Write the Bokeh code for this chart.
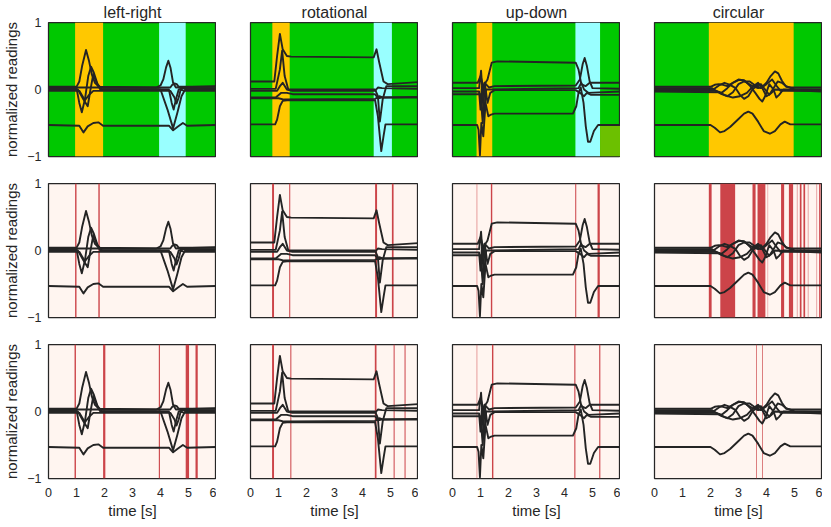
from bokeh.plotting import figure
from bokeh.layouts import column, row
from bokeh.models import Range1d, FixedTicker, ColumnDataSource
from bokeh.embed import file_html
from bokeh.resources import INLINE

# ---------------- data ----------------
titles = ["left-right", "rotational", "up-down", "circular"]
x_ticks = [0, 1, 2, 3, 4, 5, 6]
y_ticks = [-1, 0, 1]
y_tick_labels = {-1: "\u22121", 0: "0", 1: "1"}

# left-right traces
lr1_t = [0, 1.0, 1.1, 1.2, 1.34, 1.45, 1.55, 1.66, 1.8, 3.85, 4.0, 4.1, 4.2, 4.28, 4.36, 4.45, 4.55, 6]
lr1_v = [0.04, 0.04, 0.12, 0.35, 0.59, 0.42, 0.22, 0.1, 0.04, 0.03, 0.06, 0.15, 0.33, 0.43, 0.32, 0.1, 0.03, 0.05]
lr2_t = [0, 1.0, 1.1, 1.19, 1.3, 1.42, 1.52, 1.62, 1.75, 1.9, 4.3, 4.4, 4.47, 4.55, 4.65, 4.8, 6]
lr2_v = [0.02, 0.02, -0.2, -0.34, -0.15, 0.2, 0.34, 0.25, 0.08, 0.01, 0.0, -0.2, -0.3, -0.15, 0.0, 0.02, 0.02]
lr3_t = [0, 1.05, 1.25, 1.4, 1.5, 1.6, 1.7, 1.85, 4.0, 4.25, 4.45, 4.6, 4.75, 4.88, 6]
lr3_v = [0.0, 0.0, -0.15, -0.25, 0.0, 0.23, 0.12, 0.0, 0.0, -0.3, -0.58, -0.35, -0.1, 0.0, 0.0]
lr4_t = [0, 1.1, 1.3, 1.45, 1.6, 4.35, 4.5, 4.57, 4.65, 4.72, 4.85, 6]
lr4_v = [-0.02, -0.02, -0.16, -0.08, -0.02, -0.02, -0.12, -0.21, -0.12, 0.0, -0.02, -0.02]
lr5_t = [0, 4.35, 4.42, 4.5, 4.58, 4.65, 4.75, 6]
lr5_v = [0.03, 0.03, 0.07, 0.09, 0.08, 0.04, 0.04, 0.04]
lr6_t = [0, 1.1, 1.25, 1.4, 1.6, 1.78, 1.95, 4.3, 4.45, 4.6, 4.8, 4.95, 6]
lr6_v = [-0.53, -0.54, -0.64, -0.55, -0.5, -0.49, -0.54, -0.54, -0.61, -0.56, -0.5, -0.54, -0.53]

# rotational traces
rot1_t = [0, 0.85, 0.95, 1.05, 1.15, 1.3, 1.45, 4.4, 4.5, 4.6, 4.75, 4.9, 6]
rot1_v = [0.12, 0.12, 0.5, 0.83, 0.6, 0.5, 0.49, 0.48, 0.6, 0.4, 0.12, 0.08, 0.11]
rot2_t = [0, 0.9, 1.05, 1.13, 1.22, 1.35, 4.45, 4.55, 4.62, 4.72, 4.85, 6]
rot2_v = [0.01, 0.01, 0.3, 0.58, 0.2, 0.0, 0.0, -0.1, -0.48, -0.15, 0.05, 0.05]
rot3_t = [0, 0.95, 1.05, 1.15, 1.3, 1.5, 4.45, 4.55, 4.7, 6]
rot3_v = [-0.02, -0.02, 0.05, 0.1, 0.0, -0.02, -0.02, 0.03, 0.02, 0.01]
rot4_t = [0, 0.9, 1.1, 1.3, 1.5, 4.45, 4.55, 4.7, 6]
rot4_v = [-0.12, -0.12, -0.05, -0.05, -0.07, -0.07, -0.13, -0.12, -0.11]
rot5_t = [0, 1.0, 1.2, 4.45, 4.6, 4.75, 6]
rot5_v = [-0.13, -0.13, -0.15, -0.14, -0.1, -0.12, -0.12]
rot6_t = [0, 0.88, 0.95, 1.05, 1.15, 1.3, 4.45, 4.55, 4.67, 4.75, 4.82, 6]
rot6_v = [-0.52, -0.52, -0.45, -0.25, -0.17, -0.16, -0.16, -0.4, -0.92, -0.7, -0.52, -0.52]

# up-down traces
ud1_t = [0, 0.9, 1.0, 1.1, 1.25, 1.4, 1.6, 4.4, 4.5, 4.6, 4.75, 4.9, 6]
ud1_v = [0.1, 0.1, 0.2, 0.05, 0.15, 0.4, 0.42, 0.4, 0.3, 0.08, 0.05, 0.1, 0.1]
ud2_t = [0, 0.95, 1.02, 1.08, 1.15, 1.3, 1.5, 4.4, 4.55, 4.65, 4.72, 4.8, 4.9, 5.0, 6]
ud2_v = [0.02, 0.02, 0.28, -0.1, 0.1, 0.03, 0.05, 0.06, 0.15, 0.38, 0.47, 0.35, 0.12, 0.02, 0.01]
ud3_t = [0, 0.95, 1.0, 1.05, 1.12, 1.2, 1.35, 4.5, 4.6, 4.7, 4.85, 6]
ud3_v = [-0.03, -0.03, -0.3, 0.05, -0.4, 0.0, 0.0, 0.02, 0.1, 0.0, -0.05, -0.03]
ud4_t = [0, 1.0, 1.08, 1.15, 1.25, 1.35, 1.5, 4.4, 4.55, 4.7, 4.8, 4.95, 6]
ud4_v = [-0.07, -0.07, -0.5, 0.1, -0.2, -0.05, -0.01, -0.01, -0.05, -0.1, -0.05, -0.08, -0.08]
ud5_t = [0, 0.88, 0.93, 0.98, 1.03, 1.1, 1.18, 1.28, 1.35, 1.5, 4.3, 4.42, 4.5, 4.58, 4.68, 4.76, 4.84, 4.92, 5.05, 5.2, 6]
ud5_v = [-0.53, -0.53, -0.6, -0.98, -0.5, -0.7, -0.2, -0.4, -0.38, -0.36, -0.36, -0.25, -0.05, 0.03, -0.2, -0.55, -0.78, -0.78, -0.62, -0.53, -0.53]

# circular traces
cir1_t = [0, 2.0, 2.15, 2.3, 2.45, 2.6, 2.8, 3.0, 3.15, 3.3, 3.5, 3.7, 3.85, 4.0, 4.15, 4.3, 4.42, 4.55, 4.7, 4.9, 6]
cir1_v = [0.04, 0.04, 0.07, 0.08, 0.07, 0.05, 0.1, 0.15, 0.14, 0.1, 0.05, 0.02, 0.04, 0.1, 0.2, 0.27, 0.24, 0.13, 0.04, 0.03, 0.03]
cir2_t = [0, 2.05, 2.2, 2.4, 2.6, 2.8, 3.0, 3.2, 3.4, 3.6, 3.75, 3.85, 3.95, 4.1, 4.25, 4.35, 4.45, 4.6, 6]
cir2_v = [0.02, 0.02, -0.02, -0.05, 0.02, 0.1, 0.14, 0.14, 0.06, -0.05, -0.14, -0.18, -0.1, 0.08, 0.0, -0.12, -0.08, 0.0, 0.0]
cir3_t = [0, 2.1, 2.3, 2.5, 2.7, 2.9, 3.05, 3.2, 3.35, 3.5, 3.65, 3.8, 3.95, 4.1, 4.25, 4.4, 4.55, 4.7, 5.0, 6]
cir3_v = [0.0, 0.0, 0.06, 0.1, 0.07, 0.02, -0.08, -0.14, -0.1, 0.0, 0.06, 0.08, 0.0, -0.08, 0.02, 0.12, 0.1, 0.05, 0.0, -0.01]
cir4_t = [0, 2.2, 2.4, 2.6, 2.8, 3.0, 3.2, 3.4, 3.6, 3.8, 4.0, 4.2, 4.35, 4.5, 6]
cir4_v = [-0.02, -0.02, -0.07, -0.1, -0.04, 0.08, 0.12, 0.12, 0.06, 0.02, 0.08, 0.15, 0.06, -0.02, -0.02]
cir5_t = [0, 2.3, 2.55, 2.8, 3.05, 3.3, 3.5, 3.7, 3.85, 4.0, 4.15, 4.3, 6]
cir5_v = [-0.03, -0.04, -0.09, -0.12, -0.1, -0.05, 0.04, 0.1, 0.02, -0.1, -0.06, 0.0, -0.03]
cir6_t = [0, 2.0, 2.15, 2.34, 2.5, 2.7, 3.0, 3.2, 3.35, 3.5, 3.7, 3.9, 4.12, 4.3, 4.5, 4.65, 4.85, 6]
cir6_v = [-0.53, -0.53, -0.57, -0.64, -0.62, -0.56, -0.44, -0.36, -0.33, -0.36, -0.48, -0.62, -0.66, -0.62, -0.52, -0.48, -0.52, -0.52]

traces = [
    [(lr1_t, lr1_v), (lr2_t, lr2_v), (lr3_t, lr3_v), (lr4_t, lr4_v), (lr5_t, lr5_v), (lr6_t, lr6_v)],
    [(rot1_t, rot1_v), (rot2_t, rot2_v), (rot3_t, rot3_v), (rot4_t, rot4_v), (rot5_t, rot5_v), (rot6_t, rot6_v)],
    [(ud1_t, ud1_v), (ud2_t, ud2_v), (ud3_t, ud3_v), (ud4_t, ud4_v), (ud5_t, ud5_v)],
    [(cir1_t, cir1_v), (cir2_t, cir2_v), (cir3_t, cir3_v), (cir4_t, cir4_v), (cir5_t, cir5_v), (cir6_t, cir6_v)],
]

# row 1: ground-truth segments (start, end, class)
truth_start = [[0.95, 3.95], [0.78, 4.4], [0.86, 4.39], [1.94]]
truth_end = [[1.95, 4.9], [1.4, 5.05], [1.42, 5.27], [4.97]]
truth_cls = [["orange", "cyan"], ["orange", "cyan"], ["orange", "cyan"], ["orange"]]
# partial region in up-down panel (start, end, bottom, top)
ud_extra = dict(left=[5.27], right=[6.0], bottom=[-1.0], top=[-0.54])

# rows 2 and 3: predicted change points (start, end, strength)
pred2_start = [[0.95, 1.78], [0.77, 1.38, 4.45, 5.05], [0.84, 1.37, 4.38, 5.18],
               [1.94, 2.35, 3.50, 3.68, 4.03, 4.52, 4.80, 5.08, 5.19, 5.32, 5.47, 5.77, 5.88]]
pred2_end = [[1.0, 1.83], [0.84, 1.42, 4.52, 5.11], [0.90, 1.42, 4.42, 5.26],
             [2.04, 2.88, 3.61, 3.96, 4.06, 4.63, 4.95, 5.12, 5.25, 5.38, 5.51, 5.81, 5.93]]
pred2_alpha = [[1, 1], [1, 0.9, 1, 1], [0.3, 1, 0.9, 1],
               [1, 1, 1, 1, 0.4, 1, 1, 0.4, 1, 1, 0.4, 0.4, 1]]
pred3_start = [[0.93, 1.95, 3.94, 4.90, 5.25], [0.77, 1.42, 4.44, 5.11, 5.50],
               [0.84, 1.41, 4.35, 5.24], [3.63, 3.84]]
pred3_end = [[0.98, 2.03, 3.98, 5.02, 5.33], [0.84, 1.46, 4.50, 5.15, 5.54],
             [0.90, 1.46, 4.39, 5.28], [3.66, 3.87]]
pred3_alpha = [[1, 1, 1, 1, 1], [1, 0.9, 1, 0.9, 0.9], [0.3, 1, 1, 1], [0.8, 0.8]]

# ---------------- styling ----------------
FONT = "Liberation Sans"
TXT = "#262626"
LINE = "#242424"
GREEN = "#00C800"
CLS_COLORS = {"orange": "#FFC800", "cyan": "#99FFFF"}
EXTRA = "#6CC000"
PINK = "#FFF5F0"
RED = "#CC4449"

FW, FH = 168, 134
X0, X1, Y0, Y1 = 0, 6, -1, 1


def make_fig(r, c):
    kw = dict(frame_width=FW, frame_height=FH,
              x_range=Range1d(X0, X1), y_range=Range1d(Y0, Y1),
              output_backend="svg", toolbar_location=None,
              x_axis_location="below" if r == 2 else None,
              y_axis_location="left" if c == 0 else None,
              min_border_right=0, min_border_left=0 if c == 0 else 34,
              min_border_top=0 if r == 0 else 13,
              min_border_bottom=14 if r < 2 else 0)
    if r == 0:
        kw["title"] = titles[c]
    p = figure(**kw)
    p.grid.visible = False
    p.outline_line_color = TXT
    p.outline_line_width = 1.25
    p.border_fill_color = "white"
    p.background_fill_color = GREEN if r == 0 else PINK
    if r == 0:
        p.title.align = "center"
        p.title.text_font = FONT
        p.title.text_font_size = "16px"
        p.title.text_font_style = "normal"
        p.title.text_color = TXT
        p.title.standoff = 3
        p.title.offset = 0
    for ax in p.axis:
        ax.axis_line_color = None
        ax.major_tick_line_color = None
        ax.minor_tick_line_color = None
        ax.major_tick_out = 0
        ax.major_tick_in = 0
        ax.minor_tick_out = 0
        ax.minor_tick_in = 0
        ax.major_label_text_font = FONT
        ax.major_label_text_font_size = "12.5px"
        ax.major_label_text_color = TXT
        ax.axis_label_text_font = FONT
        ax.axis_label_text_font_size = "15px"
        ax.axis_label_text_font_style = "normal"
        ax.axis_label_text_color = TXT
    if c == 0:
        p.yaxis.ticker = FixedTicker(ticks=y_ticks)
        p.yaxis.major_label_overrides = y_tick_labels
        p.yaxis.axis_label = "normalized readings"
        p.yaxis.major_label_standoff = 7
        p.yaxis.axis_label_standoff = 4
    if r == 2:
        p.xaxis.ticker = FixedTicker(ticks=x_ticks)
        p.xaxis.axis_label = "time [s]"
        p.xaxis.major_label_standoff = 9
        p.xaxis.axis_label_standoff = 2

    # backgrounds / markers
    if r == 0:
        src = ColumnDataSource(dict(left=truth_start[c], right=truth_end[c],
                                    color=[CLS_COLORS[k] for k in truth_cls[c]]))
        p.quad(left="left", right="right", bottom=Y0, top=Y1, fill_color="color",
               line_color=None, source=src)
        if c == 2:
            p.quad(source=ColumnDataSource(ud_extra), left="left", right="right",
                   bottom="bottom", top="top", fill_color=EXTRA, line_color=None)
    else:
        st = pred2_start if r == 1 else pred3_start
        en = pred2_end if r == 1 else pred3_end
        al = pred2_alpha if r == 1 else pred3_alpha
        src = ColumnDataSource(dict(left=st[c], right=en[c], alpha=al[c]))
        p.quad(left="left", right="right", bottom=Y0, top=Y1, fill_color=RED,
               fill_alpha="alpha", line_color=None, source=src)

    for t, v in traces[c]:
        p.line(t, v, line_color=LINE, line_width=1.9, line_join="round")
    return p


rows = []
for r in range(3):
    rows.append(row(*[make_fig(r, c) for c in range(4)]))
layout = column(*rows)

open("out.html", "w").write(file_html(layout, INLINE))
